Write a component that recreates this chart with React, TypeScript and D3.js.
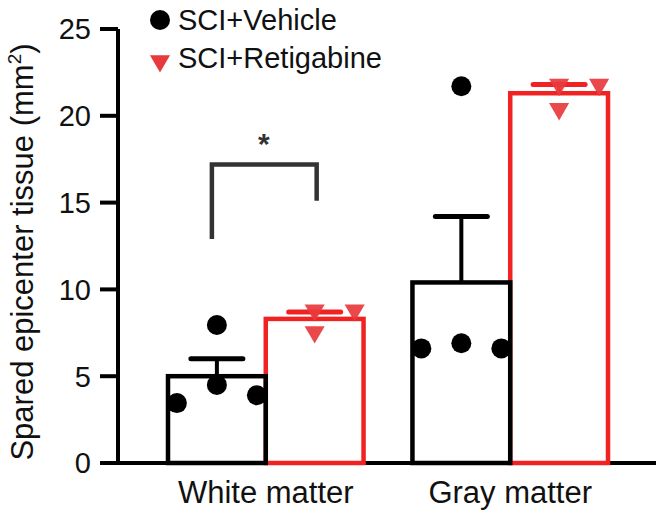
import React, { useRef, useEffect } from "react";
import * as d3 from "d3";

const groups = ["White matter", "Gray matter"];
const seriesNames = ["SCI+Vehicle", "SCI+Retigabine"];
const vehicleMeans = [5.0, 10.4];
const retigabineMeans = [8.3, 21.3];
const vehicleSem = [1.0, 3.8];
const retigabineSem = [0.4, 0.5];
// individual animals, per group
const vehiclePoints = [
  [3.45, 4.5, 3.9, 7.95],
  [6.6, 6.9, 6.6, 21.7],
];
const vehicleSlots = [
  [0, 1, 2, 1],
  [0, 1, 2, 1],
];
const retigabinePoints = [
  [8.8, 7.55, 8.8],
  [21.8, 20.4, 21.8],
];
const retigabineSlots = [
  [1, 1, 2],
  [1, 1, 2],
];
const yTicks = [0, 5, 10, 15, 20, 25];

const W = 661;
const H = 512;
const BLACK = "#000";
const RED = "#f02222";
const TRI = "#e8393d";

export default function App() {
  const svgRef = useRef<SVGSVGElement>(null);

  useEffect(() => {
    const svg = d3.select(svgRef.current);
    svg.selectAll("*").remove();

    const y = d3.scaleLinear().domain([0, 25]).range([463, 29]);
    const x0 = d3.scaleBand().domain(groups).range([168, 608]).paddingInner(0.2).paddingOuter(0);
    const x1 = d3.scaleBand().domain(seriesNames).range([0, x0.bandwidth()]);
    const slot = d3.scalePoint().domain(["0", "1", "2"]).range([-40, 40]);

    const font = "Liberation Sans, Arial, sans-serif";

    // axes
    svg.append("line").attr("x1", 118).attr("x2", 118).attr("y1", y(25)).attr("y2", y(0))
      .attr("stroke", BLACK).attr("stroke-width", 4);
    svg.append("line").attr("x1", 100).attr("x2", 656).attr("y1", y(0)).attr("y2", y(0))
      .attr("stroke", BLACK).attr("stroke-width", 4);

    const ticks = svg.append("g");
    ticks.selectAll("line").data(yTicks).join("line")
      .attr("x1", 100).attr("x2", 118)
      .attr("y1", (d) => y(d)).attr("y2", (d) => y(d))
      .attr("stroke", BLACK).attr("stroke-width", 4);
    ticks.selectAll("text").data(yTicks).join("text")
      .attr("x", 91).attr("y", (d) => y(d)).attr("dy", "0.36em")
      .attr("text-anchor", "end").attr("font-family", font).attr("font-size", 29)
      .attr("fill", "#111").text((d) => d);

    svg.append("text")
      .attr("transform", `translate(33,${(y(0) + y(25)) / 2 + 6}) rotate(-90)`)
      .attr("text-anchor", "middle").attr("font-family", font).attr("font-size", 31)
      .attr("fill", "#111")
      .call((t) => {
        t.append("tspan").text("Spared epicenter tissue (mm");
        t.append("tspan").attr("font-size", 19).attr("dy", -12).text("2");
        t.append("tspan").attr("dy", 12).text(")");
      });

    svg.append("g").selectAll("text").data(groups).join("text")
      .attr("x", (g) => x0(g)! + x0.bandwidth() / 2)
      .attr("y", 503).attr("text-anchor", "middle")
      .attr("font-family", font).attr("font-size", 31).attr("fill", "#111")
      .text((g) => g);

    const series = [
      { name: seriesNames[0], means: vehicleMeans, sem: vehicleSem, pts: vehiclePoints, slots: vehicleSlots, color: BLACK },
      { name: seriesNames[1], means: retigabineMeans, sem: retigabineSem, pts: retigabinePoints, slots: retigabineSlots, color: RED },
    ];

    // red first so the shared edge stays black, as in the figure
    [...series].reverse().forEach((s) => {
      const g = svg.append("g");
      const cx = (i: number) => x0(groups[i])! + x1(s.name)! + x1.bandwidth() / 2;

      // bars (open), neighbouring bars share an edge
      g.selectAll("rect").data(s.means).join("rect")
        .attr("x", (d, i) => x0(groups[i])! + x1(s.name)!)
        .attr("width", x1.bandwidth())
        .attr("y", (d) => y(d))
        .attr("height", (d) => y(0) - y(d))
        .attr("fill", "none").attr("stroke", s.color).attr("stroke-width", 4.5);

      // error bars
      g.selectAll(".err").data(s.means).join("line").attr("class", "err")
        .attr("x1", (d, i) => cx(i)).attr("x2", (d, i) => cx(i))
        .attr("y1", (d) => y(d)).attr("y2", (d, i) => y(d + s.sem[i]))
        .attr("stroke", s.color).attr("stroke-width", 4);
      g.selectAll(".cap").data(s.means).join("line").attr("class", "cap")
        .attr("x1", (d, i) => cx(i) - 26).attr("x2", (d, i) => cx(i) + 26)
        .attr("y1", (d, i) => y(d + s.sem[i])).attr("y2", (d, i) => y(d + s.sem[i]))
        .attr("stroke", s.color).attr("stroke-width", 5).attr("stroke-linecap", "round");
    });

    // individual points on top
    series.forEach((s, si) => {
      const flat = s.pts.flatMap((arr, gi) => arr.map((v, k) => ({ v, gi, k: s.slots[gi][k] })));
      const sym = si === 0 ? d3.symbol(d3.symbolCircle, 314) : d3.symbol(d3.symbolTriangle, 175);
      svg.append("g").selectAll("path").data(flat).join("path")
        .attr("d", sym as any)
        .attr("transform", (p) => {
          const cx = x0(groups[p.gi])! + x1(s.name)! + x1.bandwidth() / 2 + slot(String(p.k))!;
          return `translate(${cx},${y(p.v)})` + (si === 1 ? " rotate(180)" : "");
        })
        .attr("fill", si === 0 ? BLACK : TRI)
        .attr("opacity", si === 0 ? 1 : 0.92);
    });

    // significance bracket
    const wmVeh = x0(groups[0])! + x1(seriesNames[0])! + x1.bandwidth() / 2;
    const wmRet = x0(groups[0])! + x1(seriesNames[1])! + x1.bandwidth() / 2;
    svg.append("path")
      .attr("d", `M${wmVeh - 5},${y(12.9)} V${y(17.2)} H${wmRet + 2} V${y(15.1)}`)
      .attr("fill", "none").attr("stroke", "#333").attr("stroke-width", 4.5);
    svg.append("text").attr("x", (wmVeh + wmRet) / 2 - 2).attr("y", 154)
      .attr("text-anchor", "middle").attr("font-family", font).attr("font-size", 30)
      .attr("font-weight", "bold").attr("fill", "#333").text("*");

    // legend
    const leg = svg.append("g");
    leg.append("path").attr("d", d3.symbol(d3.symbolCircle, 314)() as string)
      .attr("transform", "translate(160,20)").attr("fill", BLACK);
    leg.append("path").attr("d", d3.symbol(d3.symbolTriangle, 175)() as string)
      .attr("transform", "translate(160,61) rotate(180)").attr("fill", TRI);
    leg.selectAll("text").data(seriesNames).join("text")
      .attr("x", 178).attr("y", (d, i) => 30 + i * 38)
      .attr("font-family", font).attr("font-size", 29).attr("fill", "#111")
      .text((d) => d);
  }, []);

  return (
    <svg ref={svgRef} width={W} height={H}
      style={{ position: "absolute", left: 0, top: 0, background: "#fff" }} />
  );
}
